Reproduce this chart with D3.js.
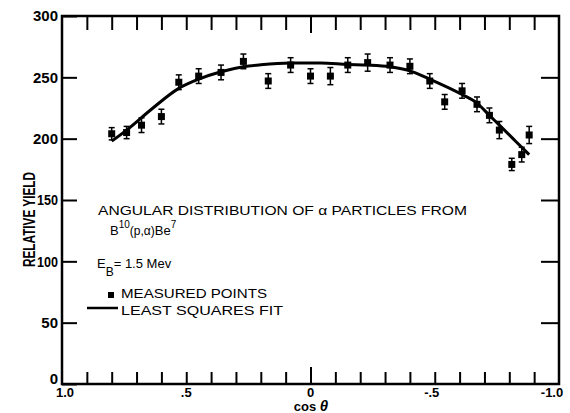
<!DOCTYPE html>
<html lang="en">
<head>
  <meta charset="UTF-8" />
  <title>Angular Distribution of Alpha Particles</title>
  <script src="https://d3js.org/d3.v7.min.js"></script>
  <style>
    body { margin: 0; background: #fff; }
    svg { display: block; font-family: "Liberation Sans", Arial, sans-serif; }
    .axis path { display: none; }
    .axis line { stroke: #000; stroke-width: 2px; }
    .axis text { fill: #000; }
    .note { font-size: 13px; fill: #000; }
  </style>
</head>
<body>
  <div id="chart"></div>

  <script>
    // measured points
    const cosTheta = [0.80, 0.74, 0.68, 0.60, 0.53, 0.45, 0.36, 0.27, 0.17, 0.08, 0.00,
                      -0.08, -0.15, -0.23, -0.32, -0.40, -0.48, -0.54, -0.61, -0.67,
                      -0.72, -0.76, -0.81, -0.85, -0.88];
    const yieldVals = [204, 205, 211, 218, 246, 251, 254, 263, 247, 260, 251,
                       251, 260, 262, 260, 259, 247, 230, 239, 228,
                       219, 207, 179, 187, 203];
    const yieldErr = [5, 5, 6, 6, 6, 6, 6, 6, 6, 6, 6,
                      7, 6, 7, 6, 6, 6, 6, 6, 6,
                      6, 7, 5, 6, 7];

    // least squares fit curve
    const fitCos = [0.80, 0.74, 0.64, 0.53, 0.45, 0.36, 0.27, 0.20, 0.08, -0.04,
                    -0.15, -0.23, -0.32, -0.40, -0.48, -0.61, -0.67, -0.72, -0.76, -0.82, -0.88];
    const fitVals = [198, 207, 224, 241, 248.5, 254.5, 258.6, 260.2, 261.6, 261.6,
                     260.5, 260, 258.6, 255.3, 248.5, 236, 229, 219, 211, 199, 187];

    // ticks and labels
    const xMinorTicks = d3.range(-9, 10).map(i => i / 10);
    const xLabelVals = [1, 0.5, 0, -0.5, -1];
    const xLabelText = ["1.0", ".5", "0", "-.5", "-1.0"];
    const yTicks = [0, 50, 100, 150, 200, 250, 300];
    const yInnerTicks = [50, 100, 150, 200, 250];

    const width = 570, height = 413;
    const plotL = 62, plotR = 559, plotT = 16, plotB = 384;

    const svg = d3.select("#chart").append("svg")
      .attr("width", width)
      .attr("height", height);

    const x = d3.scaleLinear().domain([1, -1]).range([plotL, plotR]);
    const y = d3.scaleLinear().domain([0, 300]).range([plotB, plotT]);

    // bottom ticks (inside)
    const gb = svg.append("g").attr("class", "axis")
      .attr("transform", `translate(0,${plotB})`)
      .call(d3.axisBottom(x).tickValues(xMinorTicks).tickSize(-12).tickSizeOuter(0).tickFormat(""));
    gb.selectAll(".tick line").filter(d => d === 0).attr("y2", -17);

    // top ticks (inside)
    const gt = svg.append("g").attr("class", "axis")
      .attr("transform", `translate(0,${plotT})`)
      .call(d3.axisTop(x).tickValues(xMinorTicks).tickSize(-14).tickSizeOuter(0).tickFormat(""));
    gt.selectAll(".tick line").filter(d => d === 0).attr("y2", 17);

    // left axis with labels
    const gl = svg.append("g").attr("class", "axis")
      .attr("transform", `translate(${plotL},0)`)
      .call(d3.axisLeft(y).tickValues(yTicks).tickSize(-15).tickSizeOuter(0).tickPadding(4).tickFormat(d3.format("d")));
    gl.selectAll(".tick text")
      .attr("font-size", 15)
      .attr("font-weight", "bold")
      .attr("font-family", "Liberation Sans, Arial, sans-serif");
    // lettering uses a narrow "1"
    gl.selectAll(".tick text").filter(d => d === 100 || d === 150)
      .attr("textLength", 21).attr("lengthAdjust", "spacingAndGlyphs");
    gl.selectAll(".tick text").filter(d => d === 0).attr("dy", "-0.05em");

    // right ticks
    svg.append("g").attr("class", "axis")
      .attr("transform", `translate(${plotR},0)`)
      .call(d3.axisRight(y).tickValues(yInnerTicks).tickSize(-18).tickSizeOuter(0).tickFormat(""));

    // frame
    svg.append("rect")
      .attr("x", plotL).attr("y", plotT)
      .attr("width", plotR - plotL).attr("height", plotB - plotT)
      .attr("fill", "none").attr("stroke", "#000").attr("stroke-width", 2.5);

    // x labels
    const xLabelShift = [3, 0, 0, -3, -7];
    svg.append("g").selectAll("text")
      .data(xLabelVals)
      .enter().append("text")
      .attr("x", (d, i) => x(d) + xLabelShift[i])
      .attr("y", 397)
      .attr("text-anchor", "middle")
      .attr("font-size", 13)
      .attr("font-weight", "bold")
      .text((d, i) => xLabelText[i]);

    const xt = svg.append("text")
      .attr("x", 311).attr("y", 411)
      .attr("text-anchor", "middle")
      .attr("font-size", 13)
      .attr("font-weight", "bold");
    xt.append("tspan").text("cos ");
    xt.append("tspan").attr("font-style", "italic").attr("font-size", 15).text("θ");

    // y label
    svg.append("text")
      .attr("transform", "translate(35,219.5) rotate(-90)")
      .attr("text-anchor", "middle")
      .attr("font-size", 16)
      .attr("font-weight", "bold")
      .attr("textLength", 95)
      .attr("lengthAdjust", "spacingAndGlyphs")
      .text("RELATIVE YIELD");

    // fit curve
    const line = d3.line()
      .x(d => x(d[0]))
      .y(d => y(d[1]))
      .curve(d3.curveMonotoneX);
    svg.append("path")
      .datum(fitCos.map((c, i) => [c, fitVals[i]]))
      .attr("d", line)
      .attr("fill", "none")
      .attr("stroke", "#000")
      .attr("stroke-width", 3);

    // points with error bars
    const pts = svg.append("g").selectAll("g")
      .data(cosTheta.map((c, i) => ({ c, v: yieldVals[i], e: yieldErr[i] })))
      .enter().append("g")
      .attr("transform", d => `translate(${x(d.c)},0)`);

    pts.append("line")
      .attr("x1", 0).attr("x2", 0)
      .attr("y1", d => y(d.v - d.e)).attr("y2", d => y(d.v + d.e))
      .attr("stroke", "#000").attr("stroke-width", 1.5);
    pts.append("line")
      .attr("x1", -3).attr("x2", 3)
      .attr("y1", d => y(d.v + d.e)).attr("y2", d => y(d.v + d.e))
      .attr("stroke", "#000").attr("stroke-width", 1.5);
    pts.append("line")
      .attr("x1", -3).attr("x2", 3)
      .attr("y1", d => y(d.v - d.e)).attr("y2", d => y(d.v - d.e))
      .attr("stroke", "#000").attr("stroke-width", 1.5);
    pts.append("rect")
      .attr("x", -3.5).attr("y", d => y(d.v) - 3.5)
      .attr("width", 7).attr("height", 7)
      .attr("fill", "#000");

    // annotations
    svg.append("text").attr("class", "note")
      .attr("x", 98).attr("y", 215)
      .attr("textLength", 369).attr("lengthAdjust", "spacingAndGlyphs")
      .text("ANGULAR DISTRIBUTION OF α PARTICLES FROM");

    const rx = svg.append("text").attr("class", "note").attr("x", 110).attr("y", 235);
    rx.append("tspan").text("B");
    rx.append("tspan").attr("dy", -7).attr("font-size", 10).text("10");
    rx.append("tspan").attr("dy", 7).attr("font-size", 12).text("(p,α)");
    rx.append("tspan").text("Be");
    rx.append("tspan").attr("dy", -7).attr("font-size", 10).text("7");

    const en = svg.append("text").attr("class", "note").attr("x", 97).attr("y", 268);
    en.append("tspan").text("E");
    en.append("tspan").attr("dy", 8).attr("font-size", 12).text("B");
    en.append("tspan").attr("dy", -8).text("= 1.5 Mev");

    svg.append("rect")
      .attr("x", 108).attr("y", 292)
      .attr("width", 6).attr("height", 6)
      .attr("fill", "#000");
    svg.append("text").attr("class", "note")
      .attr("x", 121).attr("y", 298)
      .attr("font-size", 14)
      .attr("textLength", 146).attr("lengthAdjust", "spacingAndGlyphs")
      .text("MEASURED POINTS");

    svg.append("line")
      .attr("x1", 87).attr("x2", 118)
      .attr("y1", 308).attr("y2", 308)
      .attr("stroke", "#000").attr("stroke-width", 2.5);
    svg.append("text").attr("class", "note")
      .attr("x", 121).attr("y", 315)
      .attr("font-size", 14)
      .attr("textLength", 162).attr("lengthAdjust", "spacingAndGlyphs")
      .text("LEAST SQUARES FIT");
  </script>
</body>
</html>
